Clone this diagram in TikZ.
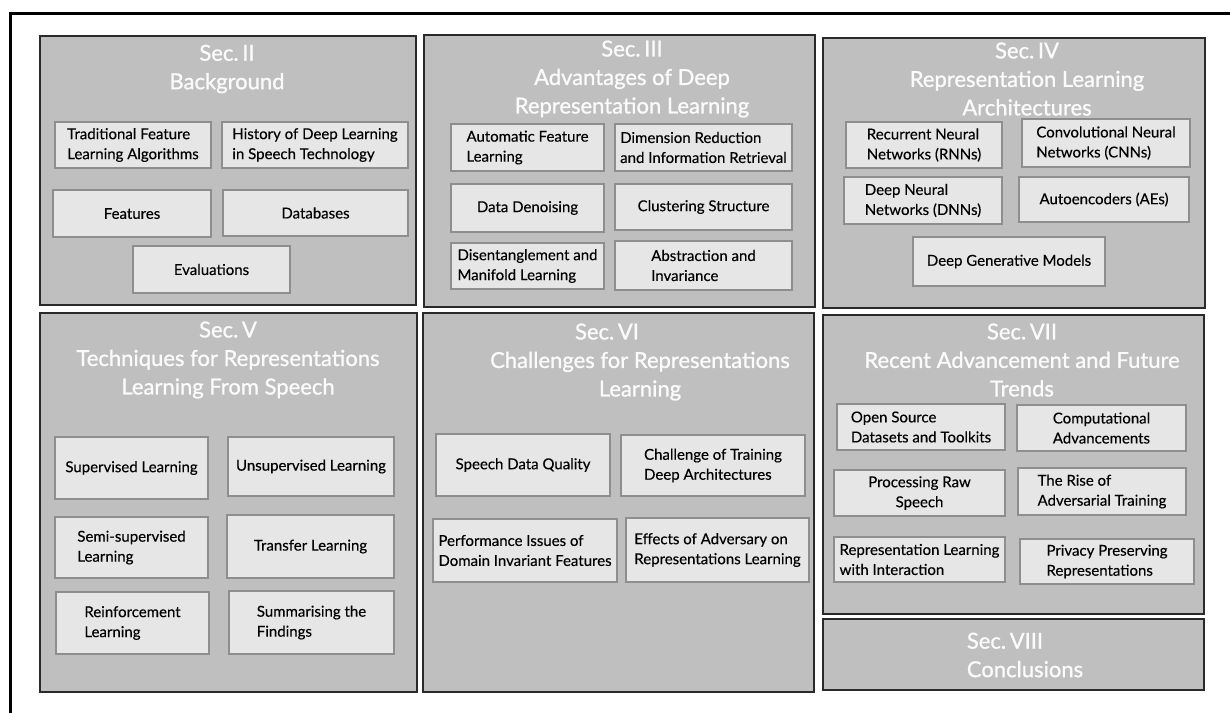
\documentclass[tikz,border=0pt]{standalone}
\usepackage{fontspec}
\setmainfont{Lato}[FakeBold=0.25]
\newfontfamily\titlefont{Lato}[FakeBold=1.0]
\definecolor{secfill}{HTML}{BFBFBF}
\definecolor{secline}{HTML}{2A2A2A}
\definecolor{subfill}{HTML}{E6E6E6}
\definecolor{subline}{HTML}{8E8E8E}
\definecolor{titletext}{HTML}{FBFBFB}
\newcommand\bx[7]{\node[#7, minimum width={#4pt-#2pt}, minimum height={#5pt-#3pt}] (#1) at ({(#2+#4)/2},{(#3+#5)/2}) {#6};}
\tikzset{
  secbox/.style={draw=secline, fill=secfill, line width=1.8pt, inner sep=0pt},
  subbox/.style={draw=subline, fill=subfill, line width=1.4pt, inner sep=2pt,
    font=\fontsize{15}{20}\selectfont, text=black},
  lbox/.style={subbox, align=left},
  cbox/.style={subbox, align=center},
  sectitle/.style={text=titletext, align=center, inner sep=0pt,
    font=\titlefont\fontsize{22}{28.5}\selectfont},
  frame/.style={line width=3pt, draw=black, line cap=butt}
}
\begin{document}
\begin{tikzpicture}[x=1pt,y=-1pt]
\useasboundingbox (0,0) rectangle (1230,713);
\fill[white] (0,0) rectangle (1230,713);
% outer frame
\coordinate (fbl) at (10,713);
\coordinate (ftl) at (10,13);
\coordinate (ftr) at (1230,13);
\draw[frame] (fbl) -- (ftl) -- (ftr);
% sections
\bx{s2}{40}{36}{416}{305}{}{secbox}
\bx{s3}{424}{35}{815}{307}{}{secbox}
\bx{s4}{823}{38}{1205}{308}{}{secbox}
\bx{s5}{40}{313}{417}{692}{}{secbox}
\bx{s6}{423}{313}{814}{692}{}{secbox}
\bx{s7}{823}{315}{1204}{614}{}{secbox}
\bx{s8}{823}{619}{1204}{690}{}{secbox}
% titles
\node[sectitle] (t2) at (227,69) {Sec.\,II\\Background};
\node[sectitle] (t3) at (632,79) {Sec.\,III\\Advantages of Deep\\Representation Learning};
\node[sectitle] (t4) at (1027,79) {Sec.\,IV\\Representation Learning\\Architectures};
\node[sectitle] (t5) at (228,360) {Sec.\,V\\Techniques for Representations\\Learning From Speech};
\node[sectitle] (t6) at (640,362) {Sec.\,VI\hspace*{66pt}\\Challenges for Representations\\Learning};
\node[sectitle] (t7) at (1022,360) {Sec.\,VII\\Recent Advancement and Future\\Trends};
\node[sectitle] (t8) at (1025,655) {Sec.\,VIII\hspace*{40pt}\\Conclusions};
% Sec II
\bx{b1}{55}{122}{211}{168}{Traditional Feature\\Learning Algorithms}{lbox}
\bx{b2}{222}{122}{408}{168}{History of Deep Learning\\in Speech Technology}{lbox}
\bx{b3}{53}{190}{211}{237}{Features}{cbox}
\bx{b4}{223}{190}{408}{236}{Databases}{cbox}
\bx{b5}{133}{246}{290}{293}{Evaluations}{cbox}
% Sec III
\bx{a1}{451}{124}{604}{171}{Automatic Feature\\Learning}{lbox}
\bx{a2}{615}{124}{792}{171}{Dimension Reduction\\and Information Retrieval}{lbox}
\bx{a3}{451}{184}{604}{232}{Data Denoising}{cbox}
\bx{a4}{615}{184}{792}{230}{Clustering Structure}{cbox}
\bx{a5}{451}{243}{604}{289}{Disentanglement and\\Manifold Learning}{lbox}
\bx{a6}{615}{241}{792}{290}{Abstraction and\\Invariance}{lbox}
% Sec IV
\bx{r1}{846}{122}{1002}{168}{Recurrent Neural\\Networks (RNNs)}{lbox}
\bx{r2}{1022}{119}{1190}{167}{Convolutional Neural\\Networks (CNNs)}{lbox}
\bx{r3}{844}{177}{1002}{224}{Deep Neural\\Networks (DNNs)}{lbox}
\bx{r4}{1019}{177}{1189}{222}{Autoencoders (AEs)}{cbox}
\bx{r5}{913}{237}{1105}{286}{Deep Generative Models}{cbox}
% Sec V
\bx{v1}{55}{437}{208}{499}{Supervised Learning}{cbox}
\bx{v2}{228}{437}{394}{496}{Unsupervised Learning}{cbox}
\bx{v3}{55}{517}{208}{578}{Semi-supervised\\Learning}{lbox}
\bx{v4}{227}{515}{394}{578}{Transfer Learning}{cbox}
\bx{v5}{56}{592}{209}{654}{Reinforcement\\Learning}{lbox}
\bx{v6}{229}{591}{394}{654}{Summarising the\\Findings}{lbox}
% Sec VI
\bx{c1}{436}{434}{610}{496}{Speech Data Quality}{cbox}
\bx{c2}{621}{435}{805}{496}{Challenge of Training\\Deep Architectures}{lbox}
\bx{c3}{433}{519}{617}{582}{Performance Issues of\\Domain Invariant Features}{lbox}
\bx{c4}{626}{518}{809}{582}{Effects of Adversary on\\Representations Learning}{lbox}
% Sec VII
\bx{f1}{837}{404}{1005}{450}{Open Source\\Datasets and Toolkits}{lbox}
\bx{f2}{1017}{405}{1186}{451}{Computational\\Advancements}{lbox}
\bx{f3}{834}{470}{1005}{516}{Processing Raw\\Speech}{cbox}
\bx{f4}{1018}{468}{1186}{515}{The Rise of\\Adversarial Training}{lbox}
\bx{f5}{834}{537}{1005}{582}{Representation Learning\\with Interaction}{lbox}
\bx{f6}{1020}{539}{1194}{584}{Privacy Preserving\\Representations}{lbox}
\end{tikzpicture}
\end{document}
